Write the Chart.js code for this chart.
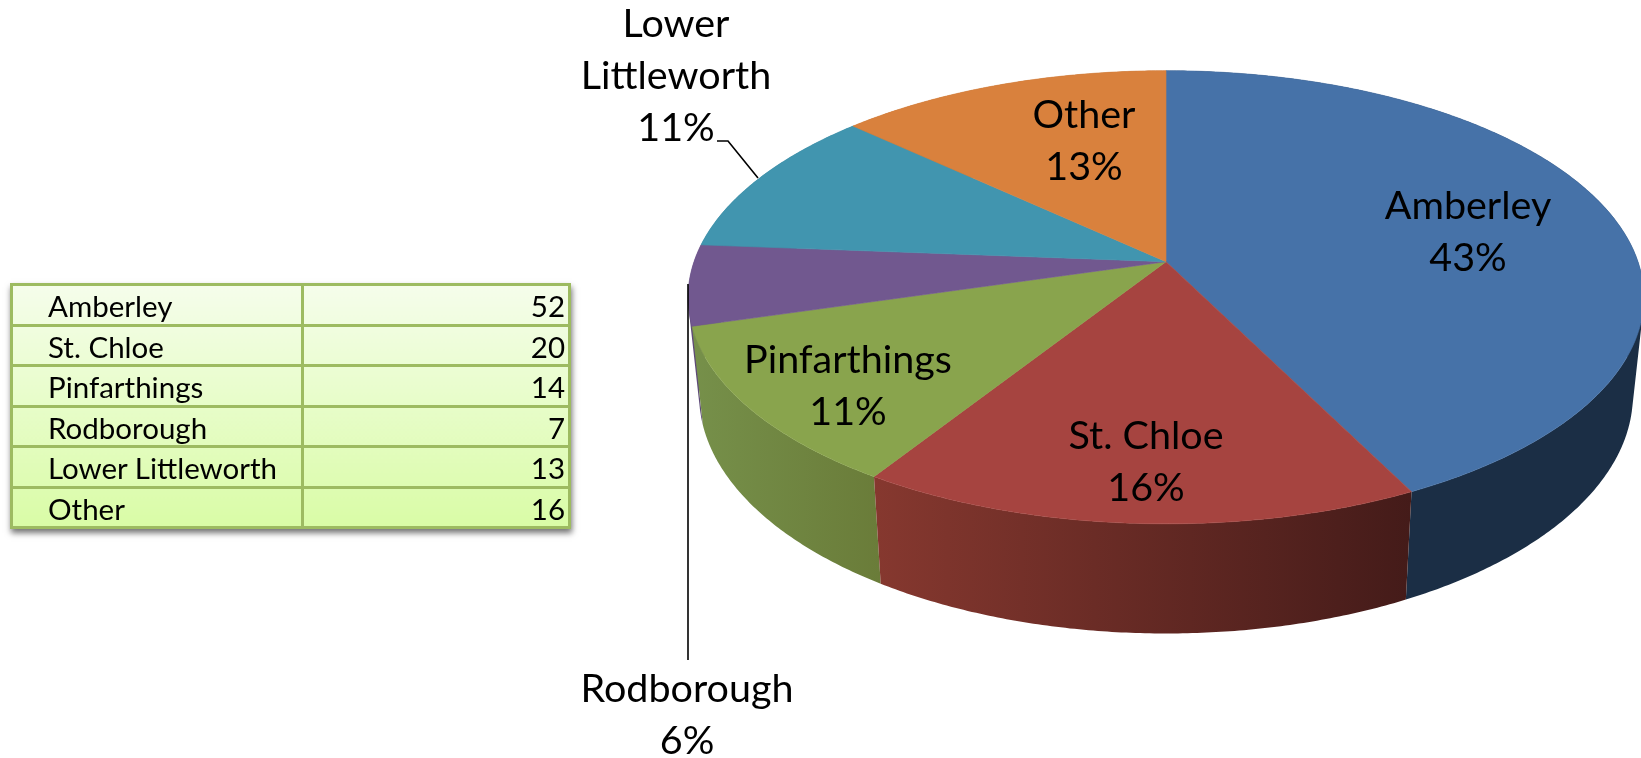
<!DOCTYPE html>
<html>
<head>
<meta charset="utf-8">
<script src="https://cdn.jsdelivr.net/npm/chart.js@4"></script>
<style>
html,body{margin:0;padding:0;background:#fff;overflow:hidden;width:1641px;height:758px}
#c{position:absolute;left:0;top:0}
table{position:absolute;left:10px;top:283px;width:561px;height:244px;border-collapse:collapse;table-layout:fixed;
background:linear-gradient(#f5fdeb,#d9fca6);box-shadow:1px 4px 6px rgba(0,0,0,.55);font:29.5px Lato,sans-serif;color:#000}
tr{height:40.5px}
td{border:3px solid #9dbb61;padding:3px 0 0 0;height:34px;line-height:34px;overflow:hidden;white-space:nowrap;box-sizing:content-box}
td.n{padding-left:35px;width:253px}
td.v{text-align:right;padding-right:3px}
</style>
</head>
<body>
<canvas id="c" width="1641" height="758"></canvas>
<table id="t"></table>
<script>
const categories = ["Amberley","St. Chloe","Pinfarthings","Rodborough","Lower Littleworth","Other"];
const values = [52,20,14,7,13,16];
const topColors = ["#4672a8","#a64440","#89a44d","#71588f","#4195af","#d9813d"];
const sideStart = ["#1b2e45","#86382f","#76904a","#5e4a78","#33788c","#a86430"];
const sideEnd   = ["#1b2e45","#441b19","#6a7c39","#5e4a78","#33788c","#a86430"];
const labelLines = [["Amberley"],["St. Chloe"],["Pinfarthings"],["Rodborough"],["Lower","Littleworth"],["Other"]];
const labelCenterX = [1468,1146,848,687,676,1084];
const labelFirstBaseline = [219,449,373,702,37,128];

const total = values.reduce((a,b)=>a+b,0);
const tbl = document.getElementById('t');
categories.forEach((c,i)=>{
  const r = tbl.insertRow();
  const a = r.insertCell(); a.className='n'; a.textContent=c;
  const b = r.insertCell(); b.className='v'; b.textContent=values[i];
});

// perspective view of the pie disc
const apexX=1166, apexY=261.7, semiU=472, semiV=221, tilt=0.157;
const depthOffset=95.6, depthGrowY=0.0535, depthShrinkX=0.977;
function project(t){
  const u=Math.cos(t), v=Math.sin(t), w=1-tilt*v;
  return [apexX+semiU*u/w, apexY+semiV*v/w];
}
function projectLow(t){
  const p=project(t);
  return [apexX+(p[0]-apexX)*depthShrinkX, p[1]+depthOffset+depthGrowY*(p[1]-apexY)];
}
const STEP=Math.PI/360;
function angles(a0,a1){
  const out=[]; const n=Math.max(2,Math.ceil((a1-a0)/STEP));
  for(let k=0;k<=n;k++) out.push(a0+(a1-a0)*k/n);
  return out;
}
function quad(ctx,q){
  let area=0;
  q.forEach((p,k)=>{const r=q[(k+1)%4]; area+=p[0]*r[1]-r[0]*p[1];});
  const pts=area<0?q.slice().reverse():q;
  ctx.moveTo(pts[0][0],pts[0][1]);
  for(let k=1;k<4;k++) ctx.lineTo(pts[k][0],pts[k][1]);
  ctx.closePath();
}
const pie3d={
  id:'pie3d',
  beforeDatasetDraw(chart,args){
    const ctx=chart.ctx, arcs=chart.getDatasetMeta(args.index).data;
    // side wall, far slices first
    const order=arcs.map((a,i)=>i).sort((p,q)=>{
      const m=a=>Math.sin((a.startAngle+a.endAngle)/2);
      return m(arcs[p])-m(arcs[q]);
    });
    ctx.save();
    order.forEach(i=>{
      const a=arcs[i], ts=angles(a.startAngle,a.endAngle);
      const up=ts.map(project), low=ts.map(projectLow);
      const xs=up.concat(low).map(p=>p[0]);
      const g=ctx.createLinearGradient(Math.min(...xs),0,Math.max(...xs),0);
      g.addColorStop(0,sideStart[i]); g.addColorStop(1,sideEnd[i]);
      ctx.fillStyle=g;
      ctx.beginPath();
      for(let k=0;k<ts.length-1;k++) quad(ctx,[up[k],up[k+1],low[k+1],low[k]]);
      ctx.fill('nonzero');
    });
    // top face
    arcs.forEach((a,i)=>{
      ctx.beginPath(); ctx.moveTo(apexX,apexY);
      angles(a.startAngle,a.endAngle).map(project).forEach(p=>ctx.lineTo(p[0],p[1]));
      ctx.closePath();
      ctx.fillStyle=topColors[i]; ctx.strokeStyle=topColors[i]; ctx.lineWidth=0.6;
      ctx.fill(); ctx.stroke();
    });
    ctx.restore();
    return false;
  },
  afterDatasetsDraw(chart){
    const ctx=chart.ctx;
    ctx.save();
    // leader lines
    ctx.strokeStyle='#000'; ctx.lineWidth=1.6;
    ctx.beginPath(); ctx.moveTo(688,284); ctx.lineTo(688,660); ctx.stroke();
    ctx.beginPath(); ctx.moveTo(717,141); ctx.lineTo(728,141); ctx.lineTo(758,178); ctx.stroke();
    // labels
    ctx.fillStyle='#000'; ctx.textAlign='center'; ctx.textBaseline='alphabetic';
    ctx.font='39.5px Lato, sans-serif';
    categories.forEach((c,i)=>{
      const lines=labelLines[i].concat([Math.round(values[i]/total*100)+'%']);
      lines.forEach((s,k)=>ctx.fillText(s,labelCenterX[i],labelFirstBaseline[i]+k*52));
    });
    ctx.restore();
  }
};
new Chart(document.getElementById('c'),{
  type:'pie',
  data:{labels:categories,datasets:[{data:values,backgroundColor:topColors,borderWidth:0}]},
  options:{responsive:false,animation:false,events:[],
    plugins:{legend:{display:false},tooltip:{enabled:false}}},
  plugins:[pie3d]
});
</script>
</body>
</html>
